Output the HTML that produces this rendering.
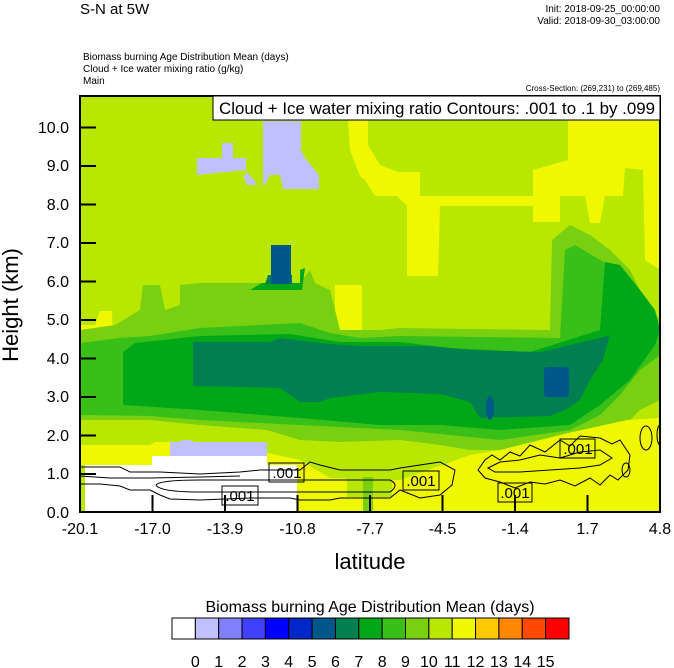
<!DOCTYPE html>
<html><head><meta charset="utf-8"><style>
html,body{margin:0;padding:0;background:#fff;width:674px;height:668px;overflow:hidden}
svg{display:block;font-family:"Liberation Sans",Arial,sans-serif}
</style></head><body>
<svg width="674" height="668" viewBox="0 0 674 668" xmlns="http://www.w3.org/2000/svg">
<defs><clipPath id="pc"><rect x="80" y="96" width="580" height="416"/></clipPath></defs>
<text x="80" y="14" font-size="15">S-N at 5W</text>
<text x="660" y="12" font-size="10" text-anchor="end">Init: 2018-09-25_00:00:00</text>
<text x="660" y="24" font-size="10" text-anchor="end">Valid: 2018-09-30_03:00:00</text>
<text x="83" y="60" font-size="10">Biomass burning Age Distribution Mean   (days)</text>
<text x="83" y="72" font-size="10">Cloud + Ice water mixing ratio   (g/kg)</text>
<text x="83" y="84" font-size="10">Main</text>
<text x="660" y="91" font-size="8" text-anchor="end">Cross-Section: (269,231) to (269,485)</text>
<g clip-path="url(#pc)">
<rect x="80" y="96" width="580" height="416" fill="#b8e800"/>
<polygon fill="#f0f800" points="348,120 368,120 368,145 380,165 398,172 420,172 420,196 533,196 533,170 568,160 568,96 660,96 660,270 645,260 643,170 625,168 623,196 605,196 600,223 590,223 585,196 560,196 560,222 533,222 533,206 440,206 438,276 407,276 407,206 397,196 375,196 365,180 360,176 350,150"/>
<rect x="335" y="285" width="27" height="45" fill="#f0f800"/>
<rect x="162" y="324" width="38" height="8" fill="#f0f800"/>
<rect x="204" y="307" width="12" height="9" fill="#f0f800"/>
<polygon fill="#f0f800" points="80,325 95,325 100,311 112,311 113,343 80,343"/>
<polygon fill="#c0c0ff" points="197,158 222,158 222,143 233,143 233,158 246,158 246,175 243,175 247,185 263,185 263,121 301,121 301,150 305,158 319,175 319,189 283,189 280,175 270,175 265,185 258,185 245,170 197,175"/>
<polygon fill="#78d010" points="80,330 115,325 140,310 143,285 160,285 165,310 180,305 180,285 200,283 300,283 310,270 315,283 330,290 335,310 340,330 380,330 400,328 550,330 552,240 570,225 590,235 610,250 630,270 645,300 660,320 660,400 640,410 620,430 590,440 560,445 500,450 470,450 440,445 400,440 340,442 300,440 267,430 200,425 150,420 80,420"/>
<polygon fill="#38c018" points="80,343 120,338 150,336 200,328 300,323 330,333 360,338 400,336 560,338 565,250 575,245 600,260 620,270 640,300 655,320 660,330 660,355 640,370 620,395 600,415 570,430 500,440 450,435 400,430 300,425 200,420 150,416 80,415"/>
<polygon fill="#00a818" points="123,352 135,343 200,336 290,334 340,342 400,342 450,348 530,352 600,330 605,262 620,265 640,290 655,310 660,330 655,345 630,380 600,405 570,425 500,430 440,425 380,425 300,418 200,410 123,405"/>
<polygon fill="#008050" points="193,342 270,342 280,338 330,344 360,346 430,346 470,350 540,352 600,338 610,335 603,360 590,380 580,400 565,410 550,416 480,418 470,402 440,394 380,392 330,398 320,402 300,402 280,388 193,386"/>
<polygon fill="#00a818" points="262,283 300,283 300,270 305,268 302,290 250,290"/>
<polygon fill="#008050" points="268,275 292,275 292,284 265,284"/>
<rect x="271" y="245" width="20" height="39" fill="#00588a"/>
<ellipse cx="490" cy="408" rx="4" ry="12" fill="#00588a"/>
<rect x="544" y="367" width="25" height="30" rx="3" fill="#00588a"/>
<polygon fill="#f0f800" points="80,445 150,445 155,442 170,442 267,453 300,460 330,478 400,480 470,455 500,450 568,433 627,420 660,418 660,512 80,512"/>
<polygon fill="#c0c0ff" points="170,442 180,442 180,440 190,440 195,442 267,442 267,456 170,456"/>
<polygon fill="#ffffff" points="85,465 152,465 152,456 267,456 267,465 297,465 297,512 85,512"/>
<rect x="80" y="465" width="5" height="47" fill="#b8e800"/>
<rect x="347" y="477" width="45" height="20" fill="#b8e800"/>
<rect x="363" y="477" width="10" height="35" fill="#78d010"/>
<g fill="none" stroke="#000" stroke-width="1">
<path d="M156,485 Q160,480 200,480 L390,480 Q400,485 390,492 L200,492 Q160,492 156,485Z"/>
<path d="M80,467 L120,467 L130,472 L160,472 L200,474 L240,472 L260,470 L300,470 L310,462 L320,465 L340,470 L390,470 L400,468 L420,465 L440,462 L455,470 L452,485 L440,495 L420,498 L400,490 L390,498 L340,498 L330,500 L300,500 L290,498 L250,498 L200,500 L170,499 L160,495 L150,490 L130,490 L120,486 L100,484 L80,484"/>
<path d="M80,476 L110,478 L150,478 L200,477 L240,476"/>
<path d="M478,470 L485,460 L492,455 L500,460 L510,452 L520,456 L530,445 L545,452 L560,440 L570,446 L580,436 L600,438 L612,444 L620,440 L630,455 L628,470 L618,480 L610,475 L600,485 L590,478 L575,486 L560,480 L545,484 L530,482 L515,488 L500,482 L485,478Z"/>
<path d="M488,468 L500,462 L520,460 L540,455 L560,458 L580,452 L600,450 L612,458 L600,465 L580,468 L550,470 L520,472 L495,472Z"/>
<ellipse cx="646" cy="438" rx="6" ry="12"/>
<ellipse cx="626" cy="470" rx="4" ry="7"/>
<ellipse cx="660" cy="435" rx="3" ry="10"/>
</g>
<g stroke="#000" stroke-width="1" fill="none">
<rect x="269" y="463" width="35" height="19"/>
<rect x="222" y="486" width="36" height="19"/>
<rect x="403" y="471" width="36" height="19"/>
<rect x="498" y="483" width="34" height="19"/>
<rect x="560" y="439" width="35" height="19"/>
</g>
<g font-size="15" text-anchor="middle">
<text x="287" y="478">.001</text>
<text x="240" y="501">.001</text>
<text x="421" y="486">.001</text>
<text x="515" y="498">.001</text>
<text x="578" y="454">.001</text>
</g>
<g stroke="#000" stroke-width="2">
<path d="M80,127.5h16M80,166h16M80,204.5h16M80,243h16M80,281.5h16M80,320h16M80,358.5h16M80,397h16M80,435.5h16M80,474h16"/>
<path d="M152.5,512v-17M225,512v-17M297.5,512v-17M370,512v-17M442.5,512v-17M515,512v-17M587.5,512v-17"/>
</g>
</g>
<rect x="80" y="96" width="580" height="416" fill="none" stroke="#000" stroke-width="2"/>
<rect x="213" y="96" width="447" height="24" fill="#fff" stroke="#000" stroke-width="1"/>
<text x="219" y="114" font-size="16.5" textLength="436" lengthAdjust="spacingAndGlyphs">Cloud + Ice water mixing ratio Contours: .001 to .1 by .099</text>
<g font-size="16" text-anchor="end">
<text x="69" y="133">10.0</text><text x="69" y="171">9.0</text><text x="69" y="210">8.0</text><text x="69" y="248">7.0</text><text x="69" y="287">6.0</text><text x="69" y="325">5.0</text><text x="69" y="364">4.0</text><text x="69" y="402">3.0</text><text x="69" y="441">2.0</text><text x="69" y="479">1.0</text><text x="69" y="518">0.0</text>
</g>
<g font-size="16" text-anchor="middle">
<text x="80" y="534">-20.1</text><text x="152.5" y="534">-17.0</text><text x="225" y="534">-13.9</text><text x="297.5" y="534">-10.8</text><text x="370" y="534">-7.7</text><text x="442.5" y="534">-4.5</text><text x="515" y="534">-1.4</text><text x="587.5" y="534">1.7</text><text x="660" y="534">4.8</text>
</g>
<text x="370" y="569" font-size="22" text-anchor="middle">latitude</text>
<text transform="translate(18,305) rotate(-90)" font-size="22" text-anchor="middle">Height (km)</text>
<text x="370" y="612" font-size="16" text-anchor="middle">Biomass burning Age Distribution Mean  (days)</text>
<g stroke="#000" stroke-width="1">
<rect x="172" y="618" width="23.35" height="21" fill="#ffffff"/>
<rect x="195.35" y="618" width="23.35" height="21" fill="#c0c0ff"/>
<rect x="218.7" y="618" width="23.35" height="21" fill="#8080ff"/>
<rect x="242.05" y="618" width="23.35" height="21" fill="#4040ff"/>
<rect x="265.4" y="618" width="23.35" height="21" fill="#0000ff"/>
<rect x="288.75" y="618" width="23.35" height="21" fill="#0028c8"/>
<rect x="312.1" y="618" width="23.35" height="21" fill="#00588a"/>
<rect x="335.45" y="618" width="23.35" height="21" fill="#008050"/>
<rect x="358.8" y="618" width="23.35" height="21" fill="#00a818"/>
<rect x="382.15" y="618" width="23.35" height="21" fill="#38c018"/>
<rect x="405.5" y="618" width="23.35" height="21" fill="#78d010"/>
<rect x="428.85" y="618" width="23.35" height="21" fill="#b8e800"/>
<rect x="452.2" y="618" width="23.35" height="21" fill="#f0f800"/>
<rect x="475.55" y="618" width="23.35" height="21" fill="#ffc800"/>
<rect x="498.9" y="618" width="23.35" height="21" fill="#ff8800"/>
<rect x="522.25" y="618" width="23.35" height="21" fill="#ff4800"/>
<rect x="545.6" y="618" width="23.4" height="21" fill="#ff0000"/>
</g>
<g font-size="16" text-anchor="middle">
<text x="195.35" y="667">0</text><text x="218.7" y="667">1</text><text x="242.05" y="667">2</text><text x="265.4" y="667">3</text><text x="288.75" y="667">4</text><text x="312.1" y="667">5</text><text x="335.45" y="667">6</text><text x="358.8" y="667">7</text><text x="382.15" y="667">8</text><text x="405.5" y="667">9</text><text x="428.85" y="667">10</text><text x="452.2" y="667">11</text><text x="475.55" y="667">12</text><text x="498.9" y="667">13</text><text x="522.25" y="667">14</text><text x="545.6" y="667">15</text>
</g>
</svg>
</body></html>
